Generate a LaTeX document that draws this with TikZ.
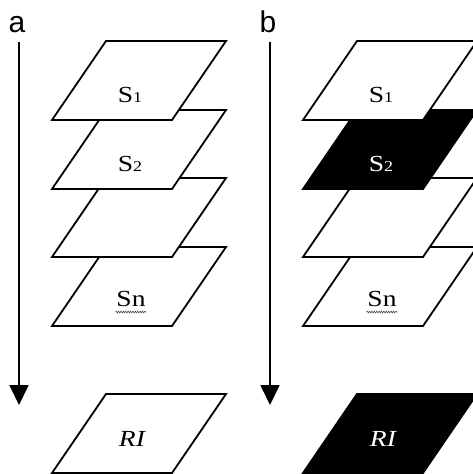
\documentclass[tikz,border=0pt]{standalone}
\usepackage{fontspec}
\setmainfont{Liberation Serif}
\newfontfamily\serifface[FakeStretch=1.2]{Liberation Serif}
\newfontfamily\armface{Liberation Sans}
\usetikzlibrary{decorations.pathmorphing,arrows.meta}
\newcommand\plate[3]{% #1 = x of bottom-left, #2 = top y, #3 = style
  \path[#3] (#1,#2+79) -- ++(120,0) -- ++(54,-79) -- ++(-120,0) -- cycle;}
\newcommand\Sx[1]{S\fontsize{15}{15}\selectfont#1}
\begin{document}
\begin{tikzpicture}[x=1pt,y=-1pt,line width=1.8pt,line join=miter,
  whiteplate/.style={draw=black,fill=white},
  blackplate/.style={draw=black,fill=black},
  lbl/.style={font=\serifface\fontsize{23}{23}\selectfont,inner sep=0pt,anchor=base},
  panel/.style={font=\armface\fontsize{30}{30}\selectfont,inner sep=0pt,anchor=base},
  timearrow/.style={-{Triangle[length=20pt,width=19pt]}},
  squiggle/.style={draw=black!70,line width=0.6pt,decorate,
    decoration={zigzag,segment length=2.4pt,amplitude=0.9pt}}]
\useasboundingbox (0,0) rectangle (473,474);
\foreach \dx/\p/\two/\ri/\twotxt/\ritxt in {0/a/whiteplate/whiteplate/black/black,251/b/blackplate/blackplate/white/white}{
  \begin{scope}[xshift=\dx]
    % label and arrow
    \node[panel] (lab-\p) at (17,32) {\p};
    \coordinate (top-\p) at (19,42);
    \coordinate (tip-\p) at (19,405);
    \draw[timearrow] (top-\p) -- (tip-\p);
    % plates, back to front
    \plate{52}{247}{whiteplate}
    \plate{52}{178}{whiteplate}
    \plate{52}{110}{\two}
    \plate{52}{41}{whiteplate}
    \plate{52}{394}{\ri}
    \node[lbl] (s1-\p) at (130,102) {\Sx{1}};
    \node[lbl,text=\twotxt] (s2-\p) at (130,171) {\Sx{2}};
    \node[lbl] (sn-\p) at (131,306) {Sn};
    \draw[squiggle] ([yshift=-6pt]sn-\p.base west) -- ([yshift=-6pt]sn-\p.base east);
    \node[lbl,text=\ritxt] (ri-\p) at (132,446) {\itshape RI};
  \end{scope}
}
\end{tikzpicture}
\end{document}
